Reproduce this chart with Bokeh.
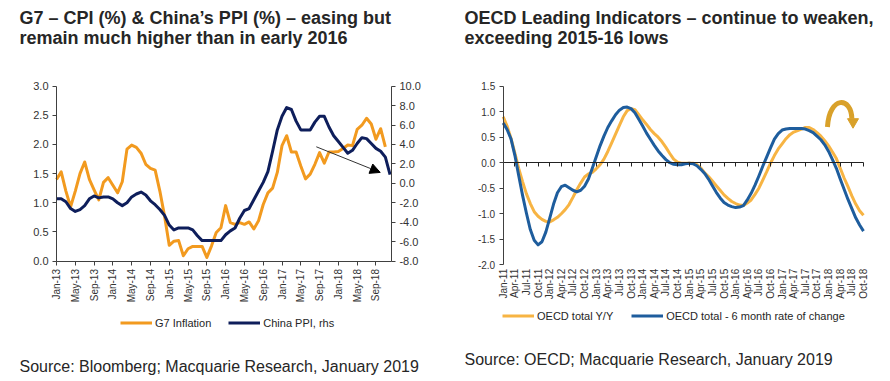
from math import pi
from bokeh.plotting import figure
from bokeh.models import (Range1d, LinearAxis, FixedTicker, Label, Legend, LegendItem,
                          Arrow, NormalHead, NumeralTickFormatter)
from bokeh.layouts import row
from bokeh.embed import file_html
from bokeh.resources import INLINE

# ---------------- data: left chart (monthly, Jan-13 .. Dec-18) ----------------
left_tick_labels = ["Jan-13", "May-13", "Sep-13", "Jan-14", "May-14", "Sep-14",
                    "Jan-15", "May-15", "Sep-15", "Jan-16", "May-16", "Sep-16",
                    "Jan-17", "May-17", "Sep-17", "Jan-18", "May-18", "Sep-18"]
g7_inflation = [1.40, 1.53, 1.20, 0.93, 1.20, 1.50, 1.70, 1.40, 1.22, 1.05, 1.35, 1.43,
                1.30, 1.17, 1.36, 1.92, 1.99, 1.95, 1.85, 1.66, 1.59, 1.56, 1.20, 0.77,
                0.27, 0.34, 0.35, 0.09, 0.21, 0.25, 0.25, 0.25, 0.06, 0.26, 0.49, 0.57,
                0.95, 0.66, 0.63, 0.66, 0.63, 0.67, 0.55, 0.69, 0.97, 1.17, 1.25, 1.52,
                1.98, 2.15, 1.87, 1.87, 1.63, 1.41, 1.49, 1.66, 1.86, 1.68, 1.87, 1.87,
                1.88, 1.93, 1.99, 1.98, 2.26, 2.33, 2.45, 2.35, 2.09, 2.27, 1.96]
china_ppi = [-1.6, -1.6, -1.9, -2.6, -2.9, -2.7, -2.3, -1.6, -1.3, -1.5, -1.4, -1.4,
             -1.6, -2.0, -2.3, -2.0, -1.4, -1.1, -0.9, -1.2, -1.8, -2.2, -2.7, -3.3,
             -4.3, -4.8, -4.6, -4.6, -4.6, -4.8, -5.4, -5.9, -5.9, -5.9, -5.9, -5.9,
             -5.3, -4.9, -4.6, -3.6, -2.8, -2.6, -1.7, -0.8, 0.1, 1.2, 3.3, 5.5,
             6.9, 7.8, 7.6, 6.4, 5.5, 5.5, 5.5, 6.3, 6.9, 6.9, 5.8, 4.9,
             4.3, 3.7, 3.1, 3.4, 4.1, 4.7, 4.6, 4.1, 3.6, 3.3, 2.7, 0.9]

# ---------------- data: right chart (monthly, Jan-11 .. Oct-18) ----------------
right_tick_labels = ["Jan-11", "Apr-11", "Jul-11", "Oct-11", "Jan-12", "Apr-12", "Jul-12", "Oct-12",
                     "Jan-13", "Apr-13", "Jul-13", "Oct-13", "Jan-14", "Apr-14", "Jul-14", "Oct-14",
                     "Jan-15", "Apr-15", "Jul-15", "Oct-15", "Jan-16", "Apr-16", "Jul-16", "Oct-16",
                     "Jan-17", "Apr-17", "Jul-17", "Oct-17", "Jan-18", "Apr-18", "Jul-18", "Oct-18"]
oecd_yy = [0.90, 0.72, 0.48, 0.19, -0.11, -0.37, -0.61, -0.80, -0.96, -1.05, -1.11, -1.15,
           -1.16, -1.12, -1.07, -1.00, -0.92, -0.82, -0.68, -0.53, -0.40, -0.28, -0.22, -0.19,
           -0.12, -0.04, 0.07, 0.22, 0.39, 0.56, 0.73, 0.90, 1.02, 1.06, 1.04, 0.94,
           0.84, 0.75, 0.65, 0.57, 0.50, 0.41, 0.30, 0.18, 0.07, 0.01, -0.01, -0.01,
           -0.01, -0.01, -0.04, -0.10, -0.20, -0.27, -0.36, -0.45, -0.54, -0.63, -0.70, -0.76,
           -0.80, -0.83, -0.84, -0.79, -0.73, -0.62, -0.50, -0.34, -0.18, -0.01, 0.14, 0.27,
           0.37, 0.47, 0.55, 0.60, 0.63, 0.66, 0.69, 0.69, 0.65, 0.59, 0.52, 0.43,
           0.33, 0.21, 0.08, -0.11, -0.30, -0.47, -0.65, -0.81, -0.94, -1.03]
oecd_6m = [0.78, 0.65, 0.47, 0.15, -0.25, -0.64, -0.99, -1.31, -1.52, -1.61, -1.55, -1.36,
           -1.09, -0.81, -0.59, -0.47, -0.44, -0.49, -0.54, -0.57, -0.54, -0.46, -0.32, -0.11,
           0.11, 0.33, 0.52, 0.69, 0.82, 0.94, 1.03, 1.08, 1.09, 1.06, 0.98, 0.85,
           0.72, 0.58, 0.46, 0.34, 0.23, 0.14, 0.06, 0.00, -0.03, -0.04, -0.04, -0.02,
           -0.01, -0.02, -0.06, -0.13, -0.21, -0.32, -0.45, -0.58, -0.69, -0.78, -0.83, -0.86,
           -0.88, -0.87, -0.84, -0.73, -0.60, -0.44, -0.26, -0.07, 0.11, 0.29, 0.46, 0.57,
           0.64, 0.66, 0.67, 0.67, 0.67, 0.67, 0.66, 0.63, 0.59, 0.52, 0.45, 0.35,
           0.22, 0.06, -0.11, -0.32, -0.52, -0.72, -0.90, -1.08, -1.22, -1.34]

# ---------------- styles ----------------
FONT = "Liberation Sans"
TXT = "#262626"
ORANGE = "#F29A1F"
NAVY = "#0E1E5B"
YELLOW = "#F7B443"
BLUE = "#1E5D9D"
GOLD = "#D9A12A"
W, H = 445, 381


def style_axis(ax, size="11px"):
    ax.axis_line_color = "#404040"
    ax.major_tick_line_color = "#404040"
    ax.major_tick_out = 4
    ax.major_tick_in = 0
    ax.minor_tick_line_color = None
    ax.major_label_text_font = FONT
    ax.major_label_text_font_size = size
    ax.major_label_text_color = "#333333"
    ax.major_label_standoff = 4


# ================= LEFT (frame = whole canvas, axes at fixed locations) =================
L_X0, L_PXM = 56.0, 4.698          # page x of Jan-13, px per month
L_Y0, L_PPU = 260.5, 58.27         # page y of 0.0, px per unit (lhs)
P_PPU = 9.711                      # px per unit (rhs)


def lx(sx): return (sx - L_X0) / L_PXM
def ly(sy): return (L_Y0 - sy) / L_PPU
def lp(sy): return -8 + (L_Y0 - sy) / P_PPU


p1 = figure(width=W, height=H, output_backend="svg", toolbar_location=None,
            x_axis_location=None, y_axis_location=None, min_border=0,
            x_range=Range1d(lx(0), lx(W)), y_range=Range1d(ly(H), ly(0)))
p1.outline_line_color = None
p1.grid.visible = False
p1.extra_y_ranges = {"ppi": Range1d(lp(H), lp(0))}

lm = list(range(len(china_ppi)))
r_g7 = p1.line(lm[:len(g7_inflation)], g7_inflation, line_color=ORANGE, line_width=3, line_join="round")
r_ppi = p1.line(lm, china_ppi, line_color=NAVY, line_width=3, line_join="round", y_range_name="ppi")
L_END = len(china_ppi) - 0.7

ax = LinearAxis(fixed_location=0, bounds=(0, L_END),
                ticker=FixedTicker(ticks=[i * 4 for i in range(len(left_tick_labels))]),
                major_label_overrides={i * 4: t for i, t in enumerate(left_tick_labels)})
style_axis(ax, "10px")
ax.major_label_orientation = pi / 2
p1.add_layout(ax, "below")

ay = LinearAxis(fixed_location=0, bounds=(0, 3),
                ticker=FixedTicker(ticks=[0, 0.5, 1.0, 1.5, 2.0, 2.5, 3.0]),
                formatter=NumeralTickFormatter(format="0.0"))
style_axis(ay)
p1.add_layout(ay, "left")

ay2 = LinearAxis(y_range_name="ppi", fixed_location=L_END, bounds=(-8, 10),
                 ticker=FixedTicker(ticks=list(range(-8, 11, 2))),
                 formatter=NumeralTickFormatter(format="0.0"))
style_axis(ay2)
p1.add_layout(ay2, "right")

arrow_start = (55.3, 1.96)
arrow_end = (68.9, 1.52)
p1.add_layout(Arrow(end=NormalHead(size=10, fill_color="black", line_color="black"),
                    x_start=arrow_start[0], y_start=arrow_start[1],
                    x_end=arrow_end[0], y_end=arrow_end[1],
                    line_color="#333333", line_width=1))

leg1 = Legend(items=[LegendItem(label="G7 Inflation", renderers=[r_g7]),
                     LegendItem(label="China PPI, rhs", renderers=[r_ppi])],
              orientation="horizontal", location=(120, 52), glyph_width=32, glyph_height=13,
              label_text_font=FONT, label_text_font_size="11px", label_text_color=TXT,
              label_standoff=3, spacing=17, padding=0, margin=0,
              border_line_color=None, background_fill_alpha=0)
p1.add_layout(leg1, "center")

for txt, sy, bold, size in [("G7 \u2013 CPI (%) & China\u2019s PPI (%) \u2013 easing but", 17, True, "18px"),
                            ("remain much higher than in early 2016", 37, True, "18px"),
                            ("Source: Bloomberg; Macquarie Research, January 2019", 366, False, "16px")]:
    p1.add_layout(Label(x=lx(19), y=ly(sy), text=txt, text_font=FONT, text_font_size=size,
                        text_font_style="bold" if bold else "normal", text_color=TXT,
                        text_baseline="middle", text_align="left"))

# ================= RIGHT =================
R_OFF = 445                         # page x of the right figure
R_X0, R_PXM = 502.7, 3.874          # page x of Jan-11, px per month
R_Y0, R_PPU = 162.2, 51.03          # page y of 0.0, px per unit


def rx(px): return (px - R_X0) / R_PXM
def ry(sy): return (R_Y0 - sy) / R_PPU


p2 = figure(width=W, height=H, output_backend="svg", toolbar_location=None,
            x_axis_location=None, y_axis_location=None, min_border=0,
            x_range=Range1d(rx(R_OFF), rx(R_OFF + W)), y_range=Range1d(ry(H), ry(0)))
p2.outline_line_color = None
p2.grid.visible = False

rm = list(range(len(oecd_yy)))
r_yy = p2.line(rm, oecd_yy, line_color=YELLOW, line_width=3, line_join="round")
r_6m = p2.line(rm, oecd_6m, line_color=BLUE, line_width=3, line_join="round")
R_END = len(oecd_yy) - 1

qt = [i * 3 for i in range(len(right_tick_labels))]
bx = LinearAxis(fixed_location=-2, bounds=(0, R_END), ticker=FixedTicker(ticks=qt),
                major_label_overrides={i * 3: t for i, t in enumerate(right_tick_labels)})
style_axis(bx, "10px")
bx.axis_line_color = None
bx.major_tick_line_color = None
bx.major_tick_out = 0
bx.major_label_orientation = pi / 2
p2.add_layout(bx, "below")

zx = LinearAxis(fixed_location=0, bounds=(0, R_END), ticker=FixedTicker(ticks=qt))
style_axis(zx)
zx.axis_line_color = "#222222"
zx.major_tick_line_color = "#222222"
zx.major_label_text_color = None
p2.add_layout(zx, "below")

by = LinearAxis(fixed_location=0, bounds=(-2, 1.5),
                ticker=FixedTicker(ticks=[-2.0, -1.5, -1.0, -0.5, 0.0, 0.5, 1.0, 1.5]),
                formatter=NumeralTickFormatter(format="0.0"))
style_axis(by, "10px")
p2.add_layout(by, "left")

# curved "turning down" arrow (decorative)
p2.bezier(x0=[83.7], y0=[0.70], x1=[90.0], y1=[0.86], cx0=[84.2], cy0=[1.32],
          cx1=[89.9], cy1=[1.30], line_color=GOLD, line_width=5)
p2.scatter(x=[90.3], y=[0.80], marker="triangle", size=11, angle=pi,
           fill_color=GOLD, line_color=GOLD)

leg2 = Legend(items=[LegendItem(label="OECD total Y/Y", renderers=[r_yy]),
                     LegendItem(label="OECD total - 6 month rate of change", renderers=[r_6m])],
              orientation="horizontal", location=(57, 59), glyph_width=32, glyph_height=13,
              label_text_font=FONT, label_text_font_size="11px", label_text_color=TXT,
              label_standoff=3, spacing=18, padding=0, margin=0,
              border_line_color=None, background_fill_alpha=0)
p2.add_layout(leg2, "center")

for txt, sy, bold, size in [("OECD Leading Indicators \u2013 continue to weaken,", 17, True, "18px"),
                            ("exceeding 2015-16 lows", 37, True, "18px"),
                            ("Source: OECD; Macquarie Research, January 2019", 359, False, "16px")]:
    p2.add_layout(Label(x=rx(464), y=ry(sy), text=txt, text_font=FONT, text_font_size=size,
                        text_font_style="bold" if bold else "normal", text_color=TXT,
                        text_baseline="middle", text_align="left"))

layout = row(p1, p2)
open("out.html", "w").write(file_html(layout, INLINE))
